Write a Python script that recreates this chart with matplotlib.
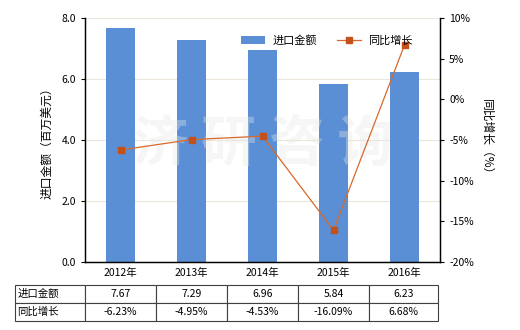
import matplotlib
matplotlib.use("Agg")
import matplotlib.pyplot as plt
import numpy as np
from matplotlib.ticker import FuncFormatter, MultipleLocator

plt.rcParams['font.family'] = ['Noto Sans CJK SC', 'DejaVu Sans']

years = ['2012年', '2013年', '2014年', '2015年', '2016年']
import_value = [7.67, 7.29, 6.96, 5.84, 6.23]
yoy_growth = [-6.23, -4.95, -4.53, -16.09, 6.68]
row_labels = ['进口金额', '同比增长']

bar_color = '#5A8FD5'
line_color = '#D8692A'
marker_color = '#C4501A'

fig = plt.figure(figsize=(5.2, 3.3), dpi=100)
ax = fig.add_axes([85/520, 1-262/330, 355/520, 244/330])
ax2 = ax.twinx()

x = np.arange(len(years))
ax.bar(x, import_value, width=0.42, color=bar_color, label='进口金额', zorder=2)
ax.set_xlim(-0.5, len(years)-0.5)
ax.set_ylim(0, 8)
ax.yaxis.set_major_locator(MultipleLocator(2))
ax.yaxis.set_major_formatter(FuncFormatter(lambda v, p: f'{v:.1f}'))
ax.grid(axis='y', color='#ece6da', linewidth=0.8, zorder=0)
ax.set_axisbelow(True)
ax.set_xticks(x)
ax.set_xticklabels(years, fontsize=7.5)
ax.tick_params(axis='x', length=0, pad=4)
ax.tick_params(axis='y', labelsize=7.5, length=3, direction='out')
ax.set_ylabel('进口金额（百万美元）', fontsize=8.5, labelpad=6)

ax2.plot(x, yoy_growth, color=line_color, linewidth=0.9, marker='s', markersize=4,
         markerfacecolor=marker_color, markeredgecolor=marker_color, label='同比增长', zorder=3)
ax2.set_ylim(-20, 10)
ax2.yaxis.set_major_locator(MultipleLocator(5))
ax2.yaxis.set_major_formatter(FuncFormatter(lambda v, p: f'{v:.0f}%'))
ax2.tick_params(axis='y', labelsize=7.5, length=3, direction='out')
ax2.set_ylabel('同比增长（%）', fontsize=8.5, rotation=270, labelpad=14)

for a in (ax, ax2):
    a.spines['top'].set_visible(False)
    for s in ('left', 'right', 'bottom'):
        a.spines[s].set_color('black')
        a.spines[s].set_linewidth(0.9)

# watermark
ax.text(0.5, 0.48, '济 研 咨 询', transform=ax.transAxes, fontsize=40, color='#e8e8e8',
        alpha=0.35, ha='center', va='center', zorder=4, fontweight='bold')

h1, l1 = ax.get_legend_handles_labels()
h2, l2 = ax2.get_legend_handles_labels()
ax2.legend(h1 + h2, l1 + l2, loc='upper right', bbox_to_anchor=(0.95, 0.97), ncol=2,
           frameon=False, fontsize=8, handlelength=2.2, columnspacing=1.8, handletextpad=0.6)

# data table
cell_text = [[row_labels[0]] + [f'{v:.2f}' for v in import_value],
             [row_labels[1]] + [f'{v:.2f}%' for v in yoy_growth]]
tw = 423
col_w = [70/tw] + [71/tw]*4 + [69/tw]
tbl = ax.table(cellText=cell_text, colWidths=col_w, cellLoc='center',
               bbox=[(15-85)/355, (262-321)/244, tw/355, 36/244])
tbl.auto_set_font_size(False)
tbl.set_fontsize(7.5)
for (r, c), cell in tbl.get_celld().items():
    cell.set_edgecolor('#404040')
    cell.set_linewidth(0.8)
    if c == 0:
        cell.set_text_props(ha='left')
        cell._loc = 'left'
        cell.PAD = 0.03

fig.savefig('out.png', dpi=100)
